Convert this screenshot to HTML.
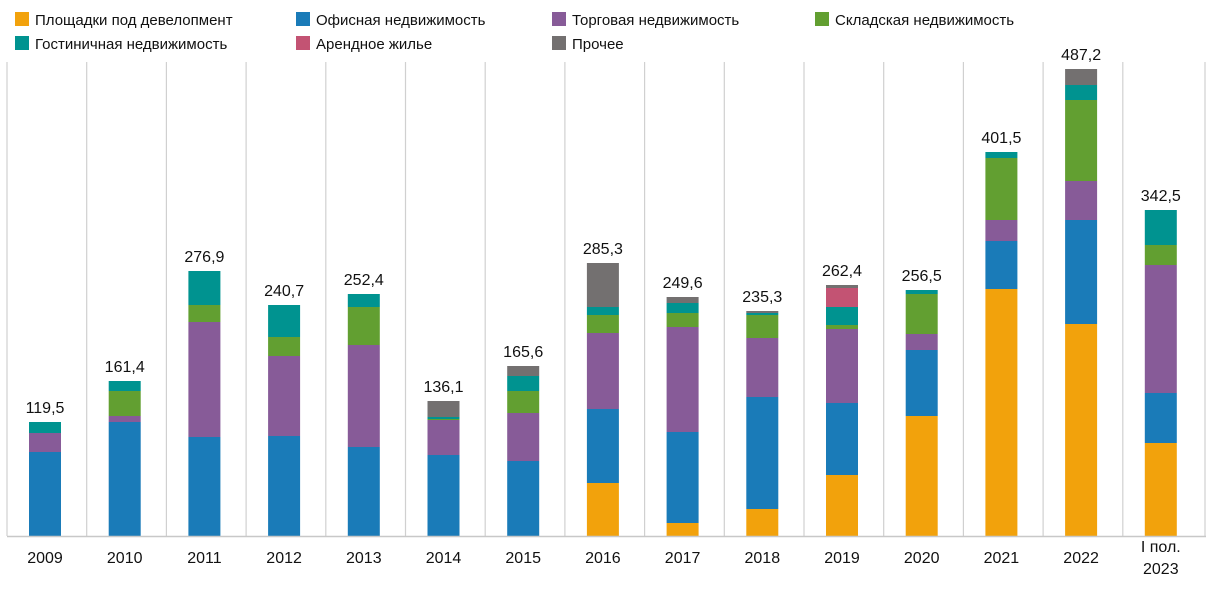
<!DOCTYPE html><html><head><meta charset="utf-8"><style>body{margin:0;background:#fff}</style></head><body>
<svg width="1217" height="586" xmlns="http://www.w3.org/2000/svg" font-family="Liberation Sans, sans-serif" font-size="15" fill="#111">
<rect x="15" y="12" width="14" height="14" fill="#f2a20c"/><text x="35" y="25">Площадки под девелопмент</text>
<rect x="296" y="12" width="14" height="14" fill="#1a7bb8"/><text x="316" y="25">Офисная недвижимость</text>
<rect x="552" y="12" width="14" height="14" fill="#875b98"/><text x="572" y="25">Торговая недвижимость</text>
<rect x="815" y="12" width="14" height="14" fill="#629f31"/><text x="835" y="25">Складская недвижимость</text>
<rect x="15" y="36" width="14" height="14" fill="#009390"/><text x="35" y="49">Гостиничная недвижимость</text>
<rect x="296" y="36" width="14" height="14" fill="#c35373"/><text x="316" y="49">Арендное жилье</text>
<rect x="552" y="36" width="14" height="14" fill="#737070"/><text x="572" y="49">Прочее</text>
<g stroke="#d0d0d0" stroke-width="1.2">
<line x1="7" y1="62" x2="7" y2="536"/><line x1="86.7" y1="62" x2="86.7" y2="536"/><line x1="166.4" y1="62" x2="166.4" y2="536"/><line x1="246.1" y1="62" x2="246.1" y2="536"/><line x1="325.8" y1="62" x2="325.8" y2="536"/><line x1="405.5" y1="62" x2="405.5" y2="536"/><line x1="485.2" y1="62" x2="485.2" y2="536"/><line x1="564.9" y1="62" x2="564.9" y2="536"/><line x1="644.6" y1="62" x2="644.6" y2="536"/><line x1="724.3" y1="62" x2="724.3" y2="536"/><line x1="804" y1="62" x2="804" y2="536"/><line x1="883.7" y1="62" x2="883.7" y2="536"/><line x1="963.4" y1="62" x2="963.4" y2="536"/><line x1="1043.1" y1="62" x2="1043.1" y2="536"/><line x1="1122.8" y1="62" x2="1122.8" y2="536"/><line x1="1205" y1="62" x2="1205" y2="536"/>
</g>
<g>
<!-- 2009 -->
<rect x="29" y="422" width="32" height="11" fill="#009390"/><rect x="29" y="433" width="32" height="19" fill="#875b98"/><rect x="29" y="452" width="32" height="84" fill="#1a7bb8"/>
<!-- 2010 -->
<rect x="108.7" y="381" width="32" height="10" fill="#009390"/><rect x="108.7" y="391" width="32" height="25" fill="#629f31"/><rect x="108.7" y="416" width="32" height="6" fill="#875b98"/><rect x="108.7" y="422" width="32" height="114" fill="#1a7bb8"/>
<!-- 2011 -->
<rect x="188.4" y="271" width="32" height="34" fill="#009390"/><rect x="188.4" y="305" width="32" height="17" fill="#629f31"/><rect x="188.4" y="322" width="32" height="115" fill="#875b98"/><rect x="188.4" y="437" width="32" height="99" fill="#1a7bb8"/>
<!-- 2012 -->
<rect x="268.1" y="305" width="32" height="32" fill="#009390"/><rect x="268.1" y="337" width="32" height="19" fill="#629f31"/><rect x="268.1" y="356" width="32" height="80" fill="#875b98"/><rect x="268.1" y="436" width="32" height="100" fill="#1a7bb8"/>
<!-- 2013 -->
<rect x="347.8" y="294" width="32" height="13" fill="#009390"/><rect x="347.8" y="307" width="32" height="38" fill="#629f31"/><rect x="347.8" y="345" width="32" height="102" fill="#875b98"/><rect x="347.8" y="447" width="32" height="89" fill="#1a7bb8"/>
<!-- 2014 -->
<rect x="427.5" y="401" width="32" height="16" fill="#737070"/><rect x="427.5" y="417" width="32" height="2" fill="#009390"/><rect x="427.5" y="419" width="32" height="1" fill="#629f31"/><rect x="427.5" y="420" width="32" height="35" fill="#875b98"/><rect x="427.5" y="455" width="32" height="81" fill="#1a7bb8"/>
<!-- 2015 -->
<rect x="507.2" y="366" width="32" height="10" fill="#737070"/><rect x="507.2" y="376" width="32" height="15" fill="#009390"/><rect x="507.2" y="391" width="32" height="22" fill="#629f31"/><rect x="507.2" y="413" width="32" height="48" fill="#875b98"/><rect x="507.2" y="461" width="32" height="75" fill="#1a7bb8"/>
<!-- 2016 -->
<rect x="586.9" y="263" width="32" height="44" fill="#737070"/><rect x="586.9" y="307" width="32" height="8" fill="#009390"/><rect x="586.9" y="315" width="32" height="18" fill="#629f31"/><rect x="586.9" y="333" width="32" height="76" fill="#875b98"/><rect x="586.9" y="409" width="32" height="74" fill="#1a7bb8"/><rect x="586.9" y="483" width="32" height="53" fill="#f2a20c"/>
<!-- 2017 -->
<rect x="666.6" y="297" width="32" height="6" fill="#737070"/><rect x="666.6" y="303" width="32" height="10" fill="#009390"/><rect x="666.6" y="313" width="32" height="14" fill="#629f31"/><rect x="666.6" y="327" width="32" height="105" fill="#875b98"/><rect x="666.6" y="432" width="32" height="91" fill="#1a7bb8"/><rect x="666.6" y="523" width="32" height="13" fill="#f2a20c"/>
<!-- 2018 -->
<rect x="746.3" y="311" width="32" height="2" fill="#737070"/><rect x="746.3" y="313" width="32" height="2" fill="#009390"/><rect x="746.3" y="315" width="32" height="23" fill="#629f31"/><rect x="746.3" y="338" width="32" height="59" fill="#875b98"/><rect x="746.3" y="397" width="32" height="112" fill="#1a7bb8"/><rect x="746.3" y="509" width="32" height="27" fill="#f2a20c"/>
<!-- 2019 -->
<rect x="826" y="285" width="32" height="3" fill="#737070"/><rect x="826" y="288" width="32" height="19" fill="#c35373"/><rect x="826" y="307" width="32" height="18" fill="#009390"/><rect x="826" y="325" width="32" height="4" fill="#629f31"/><rect x="826" y="329" width="32" height="74" fill="#875b98"/><rect x="826" y="403" width="32" height="72" fill="#1a7bb8"/><rect x="826" y="475" width="32" height="61" fill="#f2a20c"/>
<!-- 2020 -->
<rect x="905.7" y="290" width="32" height="4" fill="#009390"/><rect x="905.7" y="294" width="32" height="40" fill="#629f31"/><rect x="905.7" y="334" width="32" height="16" fill="#875b98"/><rect x="905.7" y="350" width="32" height="66" fill="#1a7bb8"/><rect x="905.7" y="416" width="32" height="120" fill="#f2a20c"/>
<!-- 2021 -->
<rect x="985.4" y="152" width="32" height="6" fill="#009390"/><rect x="985.4" y="158" width="32" height="62" fill="#629f31"/><rect x="985.4" y="220" width="32" height="21" fill="#875b98"/><rect x="985.4" y="241" width="32" height="48" fill="#1a7bb8"/><rect x="985.4" y="289" width="32" height="247" fill="#f2a20c"/>
<!-- 2022 -->
<rect x="1065.1" y="69" width="32" height="16" fill="#737070"/><rect x="1065.1" y="85" width="32" height="15" fill="#009390"/><rect x="1065.1" y="100" width="32" height="81" fill="#629f31"/><rect x="1065.1" y="181" width="32" height="39" fill="#875b98"/><rect x="1065.1" y="220" width="32" height="104" fill="#1a7bb8"/><rect x="1065.1" y="324" width="32" height="212" fill="#f2a20c"/>
<!-- 2023 -->
<rect x="1144.8" y="210" width="32" height="35" fill="#009390"/><rect x="1144.8" y="245" width="32" height="20" fill="#629f31"/><rect x="1144.8" y="265" width="32" height="128" fill="#875b98"/><rect x="1144.8" y="393" width="32" height="50" fill="#1a7bb8"/><rect x="1144.8" y="443" width="32" height="93" fill="#f2a20c"/>
</g>
<g text-anchor="middle" font-size="16">
<text x="45" y="413">119,5</text><text x="124.7" y="372">161,4</text><text x="204.4" y="262">276,9</text><text x="284.1" y="296">240,7</text><text x="363.8" y="285">252,4</text><text x="443.5" y="392">136,1</text><text x="523.2" y="357">165,6</text><text x="602.9" y="254">285,3</text><text x="682.6" y="288">249,6</text><text x="762.3" y="302">235,3</text><text x="842" y="276">262,4</text><text x="921.7" y="281">256,5</text><text x="1001.4" y="143">401,5</text><text x="1081.1" y="60">487,2</text><text x="1160.8" y="201">342,5</text>
<text x="45" y="563">2009</text><text x="124.7" y="563">2010</text><text x="204.4" y="563">2011</text><text x="284.1" y="563">2012</text><text x="363.8" y="563">2013</text><text x="443.5" y="563">2014</text><text x="523.2" y="563">2015</text><text x="602.9" y="563">2016</text><text x="682.6" y="563">2017</text><text x="762.3" y="563">2018</text><text x="842" y="563">2019</text><text x="921.7" y="563">2020</text><text x="1001.4" y="563">2021</text><text x="1081.1" y="563">2022</text><text x="1160.8" y="552">I пол.</text><text x="1160.8" y="574">2023</text>
</g>
<line x1="7" y1="536.5" x2="1206" y2="536.5" stroke="#c8c8c8" stroke-width="1.5"/>
</svg></body></html>
